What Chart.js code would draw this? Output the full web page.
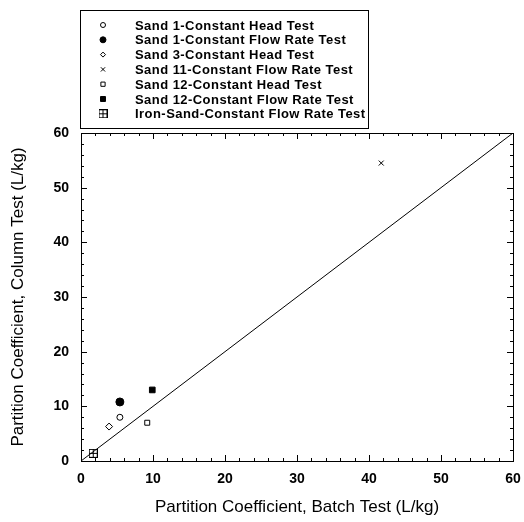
<!DOCTYPE html>
<html>
<head>
<meta charset="utf-8">
<script src="https://cdn.jsdelivr.net/npm/chart.js@4"></script>
<style>
    html, body { margin: 0; padding: 0; background: #fff; }
    #wrap { width: 524px; height: 522px; }
</style>
</head>
<body>
<div id="wrap"><canvas id="kd-chart" width="524" height="522"></canvas></div>
<script>
(function () {
    "use strict";

    // data (L/kg)
    var seriesNames = [
        "Sand 1-Constant Head Test",
        "Sand 1-Constant Flow Rate Test",
        "Sand 3-Constant Head Test",
        "Sand 11-Constant Flow Rate Test",
        "Sand 12-Constant Head Test",
        "Sand 12-Constant Flow Rate Test",
        "Iron-Sand-Constant Flow Rate Test"
    ];
    var batchKd = [5.4, 5.4, 3.9, 41.7, 9.2, 9.9, 1.7];
    var columnKd = [8.0, 10.8, 6.3, 54.5, 7.0, 13.0, 1.4];
    var oneToOne = [0, 60];
    var axisTicks = [0, 10, 20, 30, 40, 50, 60];

    var FONT = "'Liberation Sans', Arial, sans-serif";

    // boxed square with a plus, for the iron-sand marker
    var boxPlus = document.createElement("canvas");
    boxPlus.width = 9;
    boxPlus.height = 9;
    var bc = boxPlus.getContext("2d");
    bc.strokeStyle = "#000";
    bc.lineWidth = 1;
    bc.strokeRect(0.5, 0.5, 8, 8);
    bc.beginPath();
    bc.moveTo(4.5, 0.5); bc.lineTo(4.5, 8.5);
    bc.moveTo(0.5, 4.5); bc.lineTo(8.5, 4.5);
    bc.stroke();

    // marker look for each series (plot size, legend size)
    var markers = [
        { style: "circle", radius: 3, legend: 2.5, fill: "#fff" },
        { style: "circle", radius: 4, legend: 3, fill: "#000" },
        { style: "rectRot", radius: 3.5, legend: 2.5, fill: "#fff" },
        { style: "crossRot", radius: 3.5, legend: 3, fill: "#fff" },
        { style: "rect", radius: 3.5, legend: 3, fill: "#fff" },
        { style: "rect", radius: 4, legend: 3.5, fill: "#000" },
        { style: boxPlus, radius: 4.5, legend: 4.5, fill: "#fff" }
    ];

    var datasets = seriesNames.map(function (name, i) {
        return {
            label: name,
            data: [{ x: batchKd[i], y: columnKd[i] }],
            pointStyle: markers[i].style,
            pointRadius: markers[i].radius,
            pointBackgroundColor: markers[i].fill,
            pointBorderColor: "#000",
            pointBorderWidth: 1,
            showLine: false
        };
    });

    // 1:1 line
    datasets.push({
        label: "",
        data: oneToOne.map(function (v) { return { x: v, y: v }; }),
        showLine: true,
        borderColor: "#000",
        borderWidth: 1,
        pointRadius: 0
    });

    // frame, inward ticks and boxed legend
    var framePlugin = {
        id: "frame",
        afterDraw: function (chart) {
            var ctx = chart.ctx;
            var a = chart.chartArea;
            var xs = chart.scales.x;
            var ys = chart.scales.y;
            ctx.save();
            ctx.strokeStyle = "#000";
            ctx.lineWidth = 1;
            ctx.strokeRect(a.left + 0.5, a.top + 0.5, a.right - a.left, a.bottom - a.top);

            ctx.beginPath();
            for (var v = 0; v <= 60; v += 2) {
                var len = v % 10 === 0 ? 6 : 3;
                var px = Math.round(xs.getPixelForValue(v)) + 0.5;
                ctx.moveTo(px, a.bottom); ctx.lineTo(px, a.bottom - len);
                ctx.moveTo(px, a.top); ctx.lineTo(px, a.top + len);
                var py = Math.round(ys.getPixelForValue(v)) + 0.5;
                ctx.moveTo(a.left, py); ctx.lineTo(a.left + len, py);
                ctx.moveTo(a.right, py); ctx.lineTo(a.right - len, py);
            }
            ctx.stroke();

            // legend
            ctx.strokeRect(80.5, 10.5, 288, 118);
            ctx.font = "bold 13px " + FONT;
            ctx.letterSpacing = "0.45px";
            ctx.textBaseline = "middle";
            ctx.textAlign = "left";
            seriesNames.forEach(function (name, i) {
                var y = 25 + i * 14.8;
                ctx.fillStyle = markers[i].fill;
                ctx.strokeStyle = "#000";
                Chart.helpers.drawPoint(ctx, {
                    pointStyle: markers[i].style,
                    radius: markers[i].legend,
                    borderWidth: 1,
                    rotation: 0
                }, 103, y);
                ctx.fillStyle = "#000";
                ctx.fillText(name, 135, y + 1);
            });
            ctx.restore();
        }
    };

    var ctx1 = document.getElementById("kd-chart").getContext("2d");
    var kdChart = new Chart(ctx1, {
        type: "scatter",
        data: { datasets: datasets },
        options: {
            responsive: false,
            animation: false,
            layout: { padding: { left: 0, right: 11, top: 133, bottom: 0 } },
            plugins: {
                legend: { display: false },
                tooltip: { enabled: false }
            },
            scales: {
                x: {
                    type: "linear",
                    min: 0,
                    max: 60,
                    afterBuildTicks: function (s) {
                        s.ticks = axisTicks.map(function (v) { return { value: v }; });
                    },
                    afterFit: function (s) {
                        s.height = 61;
                        s.paddingLeft = 0;
                        s.paddingRight = 0;
                    },
                    grid: { display: false, drawTicks: false },
                    border: { display: true, color: "#000" },
                    ticks: {
                        color: "#000",
                        padding: 10,
                        maxRotation: 0,
                        font: { family: FONT, size: 14, weight: "bold" }
                    },
                    title: {
                        display: true,
                        text: "Partition Coefficient, Batch Test (L/kg)",
                        color: "#000",
                        padding: { top: 7 },
                        font: { family: FONT, size: 17 }
                    }
                },
                y: {
                    type: "linear",
                    min: 0,
                    max: 60,
                    afterBuildTicks: function (s) {
                        s.ticks = axisTicks.map(function (v) { return { value: v }; });
                    },
                    afterFit: function (s) { s.width = 81; },
                    grid: { display: false, drawTicks: false },
                    border: { display: true, color: "#000" },
                    ticks: {
                        color: "#000",
                        padding: 12,
                        font: { family: FONT, size: 14, weight: "bold" }
                    },
                    title: {
                        display: true,
                        text: "Partition Coefficient, Column Test (L/kg)",
                        color: "#000",
                        padding: { top: 8 },
                        font: { family: FONT, size: 17 }
                    }
                }
            }
        },
        plugins: [framePlugin]
    });
})();
</script>
</body>
</html>
